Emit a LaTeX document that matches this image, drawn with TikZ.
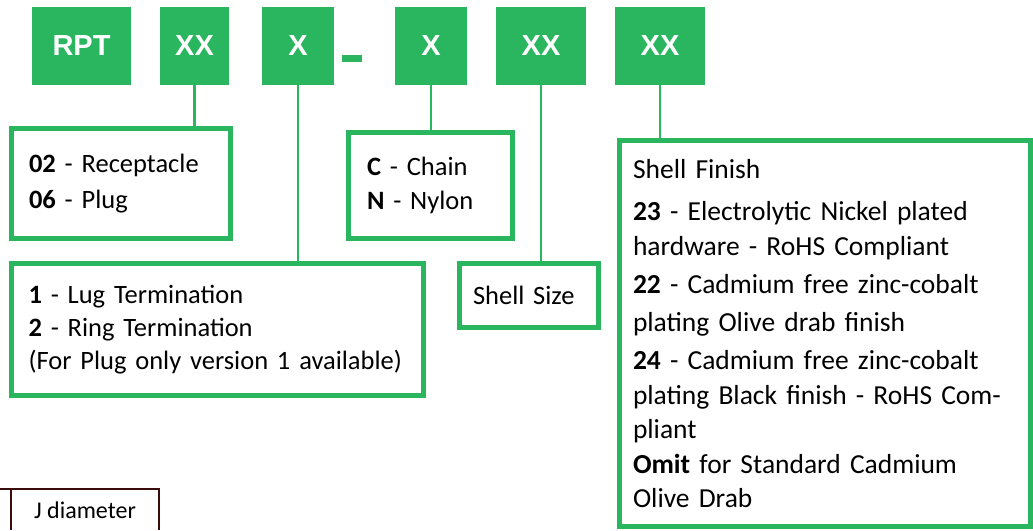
\documentclass[tikz,border=0pt]{standalone}
\usepackage{fontspec}
\setmainfont{Carlito}
\newfontfamily\codefont{Liberation Sans}
\usetikzlibrary{positioning}
\definecolor{partgreen}{HTML}{29B65E}
\definecolor{cellbrown}{HTML}{3A0C0C}

\begin{document}
\begin{tikzpicture}[x=1pt, y=-1pt,
    codebox/.style={fill=partgreen, text=white, minimum height=78pt, inner sep=0pt,
      font=\codefont\bfseries\fontsize{29}{34}\selectfont},
    optbox/.style={draw=partgreen, line width=5.5pt, fill=white, align=left,
      inner ysep=0pt, font=\fontsize{26.5}{34.5}\selectfont},
    link/.style={draw=partgreen, line width=2.5pt},
    cellline/.style={draw=cellbrown, line width=1.5pt}]
    \useasboundingbox (0,0) rectangle (1033,530);
    \node[codebox, minimum width=99pt] (rpt) at (81.5,46) {RPT};
    \node[codebox, minimum width=69pt] (style) at (194.5,46) {XX};
    \node[codebox, minimum width=72pt] (term) at (298,46) {X};
    \node[fill=partgreen, minimum width=20pt, minimum height=7pt, inner sep=0pt] (dash) at (352,58.5) {};
    \node[codebox, minimum width=72pt] (strap) at (431,46) {X};
    \node[codebox, minimum width=90pt] (size) at (541,46) {XX};
    \node[codebox, minimum width=90pt] (finish) at (660,46) {XX};

    \node[optbox, inner xsep=17.5pt, text width=184pt, minimum height=110pt] (stylebox) at (121,183.5)
      {\textbf{02} - Receptacle\\[1.5pt]\textbf{06} - Plug};
    \node[optbox, inner xsep=17pt, text width=378pt, minimum height=132pt] (termbox) at (217.5,329.5)
      {\textbf{1} - Lug Termination\\[-1.5pt]\textbf{2} - Ring Termination\\[-1.5pt](For Plug only version 1 available)};
    \node[optbox, inner xsep=18.5pt, text width=127pt, minimum height=106pt] (strapbox) at (430.5,185.5)
      {\textbf{C} - Chain\\[-1pt]\textbf{N} - Nylon};
    \node[optbox, inner xsep=13.5pt, text width=112pt, minimum height=64pt] (sizebox) at (529,295.5)
      {Shell Size};
    \node[optbox, inner xsep=13.5pt, text width=384pt, minimum height=386pt,
      font=\fontsize{27.5}{34.5}\selectfont] (finishbox) at (825,333.5)
      {Shell Finish\\[8pt]
       \textbf{23} - Electrolytic Nickel plated\\
       hardware - RoHS Compliant\\[4pt]
       \textbf{22} - Cadmium free zinc-cobalt\\[3pt]
       plating Olive drab finish\\[4pt]
       \textbf{24} - Cadmium free zinc-cobalt\\
       plating Black finish - RoHS Com-\\
       pliant\\
       \textbf{Omit} for Standard Cadmium\\
       Olive Drab};

    \draw[link] (style.south) -- (style.south |- stylebox.north);
    \draw[link] (term.south) -- (term.south |- termbox.north);
    \draw[link] (strap.south) -- (strap.south |- strapbox.north);
    \draw[link] (size.south) -- (size.south |- sizebox.north);
    \draw[link] (finish.south) -- (finish.south |- finishbox.north);

    \draw[cellline] (0,489) -- (159,489) -- (159,530);
    \draw[cellline] (11,489) -- (11,530);
    \node[font=\fontsize{24}{28}\selectfont, inner sep=0pt] (jcell) at (85,510) {J diameter};
\end{tikzpicture}
\end{document}
